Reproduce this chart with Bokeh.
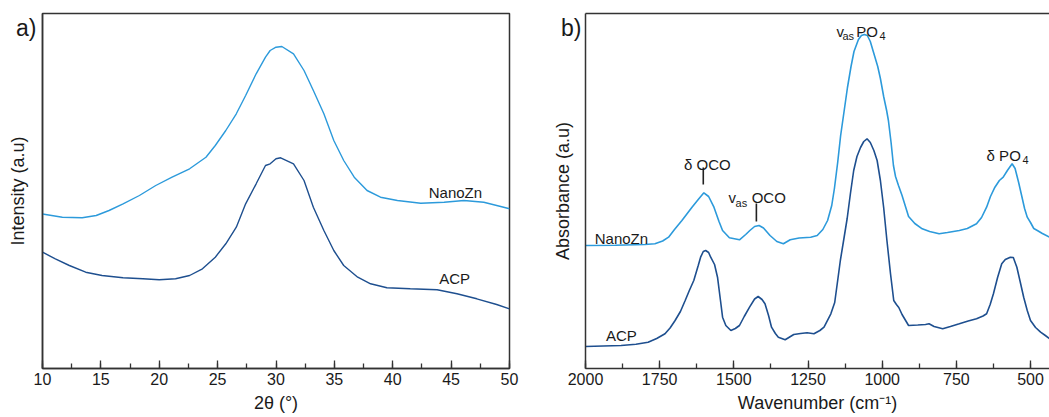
from bokeh.plotting import figure
from bokeh.models import Range1d, SingleIntervalTicker, FixedTicker, LinearAxis, Label
from bokeh.layouts import row
from bokeh.embed import file_html
from bokeh.resources import INLINE

# ---------------- data: panel a (XRD) ----------------
xrd_nano_2theta = [10.0, 11.7, 13.4, 14.6, 15.7, 16.9, 18.3, 19.7, 21.1, 22.6, 24.0, 24.8, 25.7, 26.6,
                   27.4, 28.3, 29.1, 29.5, 30.0, 30.5, 31.5, 32.4, 33.2, 34.1, 34.95, 35.8, 36.7,
                   37.8, 38.95, 40.4, 42.4, 44.4, 46.1, 47.8, 49.5, 50.0]
xrd_nano_int = [154.5, 151.3, 150.7, 153, 158, 164.7, 173, 183, 191.3, 199.7, 211.3, 223, 238, 254.7,
                273, 294.7, 311.3, 318, 321.3, 322, 314.7, 298, 278, 254.7, 228, 208, 191.3,
                178, 171.3, 168, 165.3, 166.3, 168, 166.3, 161.3, 159.7]
xrd_acp_2theta = [10.0, 11.1, 12.3, 13.7, 15.1, 16.9, 18.6, 20.0, 21.4, 22.6, 23.7, 24.8, 25.7, 26.6,
                  27.4, 28.3, 29.1, 29.5, 30.0, 30.4, 31.5, 32.4, 33.2, 34.1, 34.95, 35.8, 37.0,
                  38.1, 39.5, 41.5, 43.8, 45.5, 47.2, 48.9, 50.0]
xrd_acp_int = [116.3, 109.7, 103, 96.3, 93, 90.7, 89.7, 88.7, 89.7, 93, 99.7, 111.3, 124.7, 141.3,
               164.7, 184.7, 203, 204.7, 209.7, 210.7, 204.7, 188, 161.3, 138, 118, 103, 91.3,
               84.7, 80.7, 79.7, 78.7, 74.7, 69.7, 64, 59.7]

# ---------------- data: panel b (FTIR) ----------------
ir_nano_wn = [2000, 1900, 1800, 1766, 1740, 1720, 1700, 1675, 1641, 1620, 1601, 1585, 1567, 1550, 1538,
              1515, 1481, 1460, 1446, 1430, 1415, 1400, 1378, 1355, 1333, 1310, 1280, 1241, 1219, 1200,
              1184, 1170, 1161, 1150, 1140, 1128, 1117, 1105, 1095, 1080, 1070, 1060, 1050, 1040, 1029,
              1015, 1006, 995, 985, 979, 970, 962, 955, 945, 933, 911, 890, 865, 840, 808, 780, 740,
              713, 682, 665, 648, 635, 620, 605, 592, 578, 562, 552, 540, 530, 520, 511, 500, 489,
              477, 460, 436]
ir_nano_abs = [123, 123.2, 124, 124.7, 127.5, 131.3, 139, 148, 161.3, 169, 175.7, 172, 161.3, 147, 138,
               130.7, 128.7, 134, 138, 142, 143, 140.5, 133, 127, 124.7, 128.7, 130.5, 131.3, 133, 139,
               148, 163, 180, 206, 233, 258, 281, 302, 317, 329, 333, 334, 333, 327, 316,
               302, 290, 272, 258, 248, 226, 203, 192, 183, 173, 152, 145, 139.7, 137, 134.7, 136, 138,
               140, 144.7, 151, 161.3, 172, 181.3, 188, 191.3, 198, 204.7, 200, 186, 173, 160, 151.3, 146, 140,
               138, 135, 131.3]
ir_acp_wn = [2000, 1940, 1880, 1830, 1789, 1760, 1732, 1715, 1698, 1680, 1664, 1650, 1635, 1620, 1612,
             1603, 1595, 1585, 1578, 1565, 1555, 1545, 1538, 1527, 1510, 1495, 1481, 1465, 1447, 1430,
             1418, 1405, 1395, 1383, 1373, 1360, 1350, 1327, 1298, 1275, 1253, 1230, 1210, 1196, 1173,
             1160, 1150, 1141, 1130, 1118, 1107, 1096, 1085, 1073, 1062, 1051, 1040, 1028, 1017, 1006,
             995, 984, 972, 961, 952, 944, 933, 911, 880, 854, 842, 825, 796, 770, 740, 710, 682,
             660, 648, 636, 625, 611, 597, 585, 568, 558, 546, 535, 523, 511, 500, 483, 466, 450, 436]
ir_acp_abs = [22, 22.5, 23, 24.2, 26.3, 30, 34.7, 40.5, 48, 57, 68, 78, 88, 103, 111.3,
              117, 118, 116, 111.3, 104, 91.3, 68, 51.3, 43, 38, 40, 43, 52, 61.3, 69.5,
              72, 69, 64.7, 53, 41.3, 35, 31.3, 28.7, 34, 35, 35.7, 34.7, 38, 41.3, 54.7,
              66, 88, 108, 128, 150, 175, 198, 212, 221, 227, 229.7, 226, 218, 208, 188,
              161, 128, 95, 68, 64, 61, 54, 43, 43.5, 44, 44.7, 42, 39.7, 42, 44.7, 47.5, 49.7,
              52.5, 54.7, 64, 74.7, 91, 104.7, 109, 111.3, 111, 101.3, 87, 71.3, 58, 48, 41, 36.3, 33, 30]

panel_tags = ["a)", "b)"]

LIGHT = "#2C9ADB"
DARK = "#1E4F8F"
AX = "#333333"
TXT = "#1a1a1a"
FONT = "Liberation Sans"
TAG_Y = 341


def style_common(p):
    p.background_fill_color = "white"
    p.border_fill_color = "white"
    p.xgrid.visible = False
    p.ygrid.visible = False


def style_xaxis(ax, label):
    ax.axis_label = label
    ax.axis_label_text_font = FONT
    ax.axis_label_text_font_size = "18px"
    ax.axis_label_text_font_style = "normal"
    ax.axis_label_text_color = TXT
    ax.axis_label_standoff = 5
    ax.major_label_text_font = FONT
    ax.major_label_text_font_size = "16px"
    ax.major_label_text_color = TXT
    ax.major_label_standoff = 4
    ax.axis_line_color = AX
    ax.axis_line_width = 1.5
    ax.major_tick_line_color = AX
    ax.minor_tick_line_color = AX
    ax.major_tick_line_width = 1.3
    ax.minor_tick_line_width = 1.3
    ax.major_tick_in = 8
    ax.major_tick_out = 0
    ax.minor_tick_in = 5
    ax.minor_tick_out = 0


def style_yaxis(ax, label, tag, tag_standoff, label_standoff):
    # the panel tag ("a)" / "b)") is drawn as the single tick label of the left axis
    ax.ticker = FixedTicker(ticks=[TAG_Y])
    ax.major_label_overrides = {TAG_Y: tag}
    ax.major_label_text_font = FONT
    ax.major_label_text_font_size = "23px"
    ax.major_label_text_color = TXT
    ax.major_label_standoff = tag_standoff
    ax.axis_label = label
    ax.axis_label_text_font = FONT
    ax.axis_label_text_font_size = "18px"
    ax.axis_label_text_font_style = "normal"
    ax.axis_label_text_color = TXT
    ax.axis_label_standoff = label_standoff
    ax.axis_line_color = AX
    ax.axis_line_width = 1.5
    ax.major_tick_in = 0
    ax.major_tick_out = 0
    ax.minor_tick_in = 0
    ax.minor_tick_out = 0


def lab(p, x, y, text, size="15px", align="left"):
    p.add_layout(Label(x=x, y=y, text=text, text_font=FONT, text_font_size=size,
                       text_color=TXT, text_align=align, text_baseline="alphabetic"))


# ---------------- panel a ----------------
pa = figure(width=530, height=417, output_backend="svg", toolbar_location=None,
            x_range=Range1d(10, 50), y_range=Range1d(0, 355),
            min_border_left=42, min_border_right=21, min_border_top=13, min_border_bottom=49)
style_common(pa)
pa.outline_line_color = AX
pa.outline_line_width = 1.5
pa.outline_line_alpha = 1
pa.xaxis.ticker = SingleIntervalTicker(interval=5, num_minor_ticks=2)
style_xaxis(pa.xaxis[0], "2θ (°)")
style_yaxis(pa.yaxis[0], "Intensity (a.u)", panel_tags[0], 6, -15)
pa.line(xrd_nano_2theta, xrd_nano_int, line_color=LIGHT, line_width=1.4)
pa.line(xrd_acp_2theta, xrd_acp_int, line_color=DARK, line_width=1.4)
lab(pa, 45.37, 176, "NanoZn", align="center")
lab(pa, 45.3, 90, "ACP", align="center")

# ---------------- panel b ----------------
pb = figure(width=519, height=417, output_backend="svg", toolbar_location=None,
            x_range=Range1d(2000, 436), y_range=Range1d(0, 355),
            min_border_left=55, min_border_right=0, min_border_top=13, min_border_bottom=49)
style_common(pb)
pb.outline_line_color = None
pb.xaxis.ticker = SingleIntervalTicker(interval=250, num_minor_ticks=2)
style_xaxis(pb.xaxis[0], "Wavenumber (cm⁻¹)")
style_yaxis(pb.yaxis[0], "Absorbance (a.u)", panel_tags[1], 4, -15)
top = LinearAxis(ticker=FixedTicker(ticks=[]), major_label_text_font_size="0px",
                 axis_line_color=AX, axis_line_width=1.5,
                 major_tick_in=0, major_tick_out=0, minor_tick_in=0, minor_tick_out=0)
pb.add_layout(top, "above")
pb.line(ir_nano_wn, ir_nano_abs, line_color=LIGHT, line_width=1.6)
pb.line(ir_acp_wn, ir_acp_abs, line_color=DARK, line_width=1.6)

# peak markers
pb.segment(x0=[1603, 1424], y0=[184, 147], x1=[1603, 1424], y1=[201, 165],
           line_color="#222222", line_width=1.6)

lab(pb, 1879, 130, "NanoZn", align="center")
lab(pb, 1879, 33, "ACP", align="center")
lab(pb, 1589, 204, "δ OCO", align="center")
lab(pb, 1518, 171, "v")
lab(pb, 1494, 166, "as", size="11px")
lab(pb, 1440, 171, "OCO")
lab(pb, 1154, 337, "v")
lab(pb, 1134, 333, "as", size="11px")
lab(pb, 1087, 337, "PO")
lab(pb, 1009, 333, "4", size="11px")
lab(pb, 648, 213, "δ PO")
lab(pb, 527, 209, "4", size="11px")

layout = row(pa, pb)
open("out.html", "w").write(file_html(layout, INLINE))
